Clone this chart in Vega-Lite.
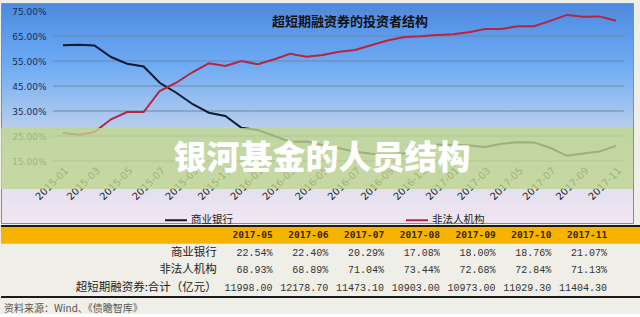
{
  "$schema": "https://vega.github.io/schema/vega-lite/v6.json",
  "background": "#efeee7",
  "padding": {"left": 0, "top": 2, "right": 0, "bottom": 0},
  "spacing": 0,
  "config": {"concat": {"spacing": 0}, "font": "Noto Sans CJK SC", "axis": {"labelOverlap": false, "labelFlush": false, "labelBound": false}},
  "vconcat": [
    {
      "width": 632,
      "height": 220,
      "view": {
        "stroke": "#8c8c8c",
        "strokeWidth": 1,
        "fill": {
          "gradient": "linear", "x1": 0, "y1": 0, "x2": 0, "y2": 1,
          "stops": [
            {"offset": 0, "color": "#4c8ae0"},
            {"offset": 0.28, "color": "#6eabf4"},
            {"offset": 0.5, "color": "#a7c6ee"},
            {"offset": 0.65, "color": "#cdd8ec"},
            {"offset": 1, "color": "#f3e6f2"}
          ]
        }
      },
      "title": {
        "text": "超短期融资券的投资者结构",
        "anchor": "middle",
        "dx": 33,
        "offset": -26,
        "font": "Noto Sans CJK SC",
        "fontSize": 13,
        "fontWeight": "bold",
        "color": "#111111"
      },
      "layer": [
        {
          "data": {"values": [{"g": 15}, {"g": 25}, {"g": 35}, {"g": 45}, {"g": 55}, {"g": 65}, {"g": 75}]},
          "mark": {"type": "rule", "color": "#6f87a6", "strokeWidth": 1},
          "encoding": {
            "y": {"field": "g", "type": "quantitative", "scale": {"domain": [-9.8, 78.2], "nice": false, "zero": false},
              "axis": {"values": [15, 25, 35, 45, 55, 65, 75], "tickCount": 40, "labelExpr": "datum.value + '.00%'", "grid": false, "domain": false, "ticks": false, "tickSize": 0, "labelPadding": -45, "labelFont": "DejaVu Sans", "labelFontSize": 9, "labelColor": "#1a2d55", "labelOverlap": false, "title": null}},
            "x": {"datum": {"year": 2014, "month": 12, "date": 13, "utc": true}, "type": "temporal"},
            "x2": {"datum": {"year": 2017, "month": 11, "date": 16, "utc": true}}
          }
        },
        {
          "data": {"values": [
            {"d": "2015-01", "s": "商业银行", "v": 61.3}, {"d": "2015-02", "s": "商业银行", "v": 61.5}, {"d": "2015-03", "s": "商业银行", "v": 61.2},
            {"d": "2015-04", "s": "商业银行", "v": 56.6}, {"d": "2015-05", "s": "商业银行", "v": 53.9}, {"d": "2015-06", "s": "商业银行", "v": 52.8},
            {"d": "2015-07", "s": "商业银行", "v": 46.3}, {"d": "2015-08", "s": "商业银行", "v": 42.3}, {"d": "2015-09", "s": "商业银行", "v": 37.7},
            {"d": "2015-10", "s": "商业银行", "v": 34.3}, {"d": "2015-11", "s": "商业银行", "v": 33.0}, {"d": "2015-12", "s": "商业银行", "v": 28.3},
            {"d": "2016-01", "s": "商业银行", "v": 27.4}, {"d": "2016-02", "s": "商业银行", "v": 25.0}, {"d": "2016-03", "s": "商业银行", "v": 22.7},
            {"d": "2016-04", "s": "商业银行", "v": 22.8}, {"d": "2016-05", "s": "商业银行", "v": 21.4}, {"d": "2016-06", "s": "商业银行", "v": 20.1},
            {"d": "2016-07", "s": "商业银行", "v": 18.7}, {"d": "2016-08", "s": "商业银行", "v": 17.9}, {"d": "2016-09", "s": "商业银行", "v": 17.7},
            {"d": "2016-10", "s": "商业银行", "v": 18.1}, {"d": "2016-11", "s": "商业银行", "v": 20.5}, {"d": "2016-12", "s": "商业银行", "v": 21.6},
            {"d": "2017-01", "s": "商业银行", "v": 21.5}, {"d": "2017-02", "s": "商业银行", "v": 21.2}, {"d": "2017-03", "s": "商业银行", "v": 20.6},
            {"d": "2017-04", "s": "商业银行", "v": 21.9}, {"d": "2017-05", "s": "商业银行", "v": 22.54}, {"d": "2017-06", "s": "商业银行", "v": 22.40},
            {"d": "2017-07", "s": "商业银行", "v": 20.29}, {"d": "2017-08", "s": "商业银行", "v": 17.08}, {"d": "2017-09", "s": "商业银行", "v": 18.00},
            {"d": "2017-10", "s": "商业银行", "v": 18.76}, {"d": "2017-11", "s": "商业银行", "v": 21.07},
            {"d": "2015-01", "s": "非法人机构", "v": 26.2}, {"d": "2015-02", "s": "非法人机构", "v": 25.5}, {"d": "2015-03", "s": "非法人机构", "v": 26.6},
            {"d": "2015-04", "s": "非法人机构", "v": 31.7}, {"d": "2015-05", "s": "非法人机构", "v": 34.6}, {"d": "2015-06", "s": "非法人机构", "v": 34.6},
            {"d": "2015-07", "s": "非法人机构", "v": 43.0}, {"d": "2015-08", "s": "非法人机构", "v": 46.3}, {"d": "2015-09", "s": "非法人机构", "v": 50.6},
            {"d": "2015-10", "s": "非法人机构", "v": 54.1}, {"d": "2015-11", "s": "非法人机构", "v": 53.0}, {"d": "2015-12", "s": "非法人机构", "v": 55.0},
            {"d": "2016-01", "s": "非法人机构", "v": 53.7}, {"d": "2016-02", "s": "非法人机构", "v": 55.7}, {"d": "2016-03", "s": "非法人机构", "v": 57.9},
            {"d": "2016-04", "s": "非法人机构", "v": 56.7}, {"d": "2016-05", "s": "非法人机构", "v": 57.4}, {"d": "2016-06", "s": "非法人机构", "v": 58.7},
            {"d": "2016-07", "s": "非法人机构", "v": 59.4}, {"d": "2016-08", "s": "非法人机构", "v": 61.4}, {"d": "2016-09", "s": "非法人机构", "v": 63.3},
            {"d": "2016-10", "s": "非法人机构", "v": 64.6}, {"d": "2016-11", "s": "非法人机构", "v": 64.9}, {"d": "2016-12", "s": "非法人机构", "v": 65.4},
            {"d": "2017-01", "s": "非法人机构", "v": 65.7}, {"d": "2017-02", "s": "非法人机构", "v": 66.6}, {"d": "2017-03", "s": "非法人机构", "v": 67.8},
            {"d": "2017-04", "s": "非法人机构", "v": 67.8}, {"d": "2017-05", "s": "非法人机构", "v": 68.93}, {"d": "2017-06", "s": "非法人机构", "v": 68.89},
            {"d": "2017-07", "s": "非法人机构", "v": 71.04}, {"d": "2017-08", "s": "非法人机构", "v": 73.44}, {"d": "2017-09", "s": "非法人机构", "v": 72.68},
            {"d": "2017-10", "s": "非法人机构", "v": 72.84}, {"d": "2017-11", "s": "非法人机构", "v": 71.13}
          ]},
          "mark": {"type": "line", "strokeWidth": 2},
          "encoding": {
            "x": {"field": "d", "type": "temporal",
              "scale": {"type": "utc", "domain": [{"year": 2014, "month": 9, "date": 7, "utc": true}, {"year": 2017, "month": 12, "date": 3, "utc": true}], "nice": false},
              "axis": {
                "values": [
                  {"year": 2015, "month": 1, "utc": true}, {"year": 2015, "month": 3, "utc": true}, {"year": 2015, "month": 5, "utc": true},
                  {"year": 2015, "month": 7, "utc": true}, {"year": 2015, "month": 9, "utc": true}, {"year": 2015, "month": 11, "utc": true},
                  {"year": 2016, "month": 1, "utc": true}, {"year": 2016, "month": 3, "utc": true}, {"year": 2016, "month": 5, "utc": true},
                  {"year": 2016, "month": 7, "utc": true}, {"year": 2016, "month": 9, "utc": true}, {"year": 2016, "month": 11, "utc": true},
                  {"year": 2017, "month": 1, "utc": true}, {"year": 2017, "month": 3, "utc": true}, {"year": 2017, "month": 5, "utc": true},
                  {"year": 2017, "month": 7, "utc": true}, {"year": 2017, "month": 9, "utc": true}, {"year": 2017, "month": 11, "utc": true}
                ],
                "tickCount": 40,
                "format": "%Y-%m",
                "labelAngle": -45,
                "labelAlign": "right",
                "labelBaseline": "top",
                "offset": -60,
                "labelPadding": 2,
                "grid": false, "domain": false, "ticks": false, "tickSize": 0,
                "labelFont": "DejaVu Sans", "labelFontSize": 10, "labelColor": "#222222",
                "labelOverlap": false, "labelFlush": false, "labelBound": false,
                "title": null
              }
            },
            "y": {"field": "v", "type": "quantitative"},
            "color": {"field": "s", "type": "nominal",
              "scale": {"domain": ["商业银行", "非法人机构"], "range": ["#101a30", "#b8233f"]},
              "legend": {
                "orient": "none", "legendX": 163, "legendY": 205, "direction": "horizontal",
                "title": null, "symbolType": "stroke", "symbolSize": 484, "symbolStrokeWidth": 2,
                "labelFont": "Noto Sans CJK SC", "labelFontSize": 10.5, "labelColor": "#222222",
                "labelOffset": 3, "columnPadding": 169, "padding": 0
              }
            }
          }
        },
        {
          "data": {"values": [{"band": "banner"}]},
          "mark": {"type": "rect", "color": "#bfd68f", "opacity": 0.8},
          "encoding": {
            "y": {"datum": 28.2, "type": "quantitative"},
            "y2": {"datum": 3.8}
          }
        },
        {
          "data": {"values": [{"t": "银河基金的人员结构"}]},
          "mark": {"type": "text", "color": "#ffffff", "font": "Noto Sans CJK SC", "fontSize": 33, "fontWeight": 900, "baseline": "middle", "align": "center", "dx": 5},
          "encoding": {
            "text": {"field": "t"},
            "y": {"datum": 15.8, "type": "quantitative"}
          }
        }
      ]
    },
    {
      "width": 640,
      "height": 75,
      "view": {"stroke": null},
      "title": {
        "text": "资料来源：Wind、《债瞻智库》",
        "orient": "bottom",
        "anchor": "start",
        "offset": 5,
        "font": "Noto Sans CJK SC",
        "fontSize": 10,
        "fontWeight": "normal",
        "color": "#555555",
        "dx": 4
      },
      "data": {"values": [
        {"row": "header", "col": "2017-05", "text": "2017-05"}, {"row": "header", "col": "2017-06", "text": "2017-06"},
        {"row": "header", "col": "2017-07", "text": "2017-07"}, {"row": "header", "col": "2017-08", "text": "2017-08"},
        {"row": "header", "col": "2017-09", "text": "2017-09"}, {"row": "header", "col": "2017-10", "text": "2017-10"},
        {"row": "header", "col": "2017-11", "text": "2017-11"},
        {"row": "商业银行", "col": "label", "text": "商业银行"},
        {"row": "商业银行", "col": "2017-05", "text": "22.54%"}, {"row": "商业银行", "col": "2017-06", "text": "22.40%"},
        {"row": "商业银行", "col": "2017-07", "text": "20.29%"}, {"row": "商业银行", "col": "2017-08", "text": "17.08%"},
        {"row": "商业银行", "col": "2017-09", "text": "18.00%"}, {"row": "商业银行", "col": "2017-10", "text": "18.76%"},
        {"row": "商业银行", "col": "2017-11", "text": "21.07%"},
        {"row": "非法人机构", "col": "label", "text": "非法人机构"},
        {"row": "非法人机构", "col": "2017-05", "text": "68.93%"}, {"row": "非法人机构", "col": "2017-06", "text": "68.89%"},
        {"row": "非法人机构", "col": "2017-07", "text": "71.04%"}, {"row": "非法人机构", "col": "2017-08", "text": "73.44%"},
        {"row": "非法人机构", "col": "2017-09", "text": "72.68%"}, {"row": "非法人机构", "col": "2017-10", "text": "72.84%"},
        {"row": "非法人机构", "col": "2017-11", "text": "71.13%"},
        {"row": "合计", "col": "label", "text": "超短期融资券:合计（亿元）"},
        {"row": "合计", "col": "2017-05", "text": "11998.00"}, {"row": "合计", "col": "2017-06", "text": "12178.70"},
        {"row": "合计", "col": "2017-07", "text": "11473.10"}, {"row": "合计", "col": "2017-08", "text": "10903.00"},
        {"row": "合计", "col": "2017-09", "text": "10973.00"}, {"row": "合计", "col": "2017-10", "text": "11029.30"},
        {"row": "合计", "col": "2017-11", "text": "11404.30"}
      ]},
      "encoding": {
        "y": {"field": "row", "type": "nominal", "axis": null,
          "scale": {"type": "band", "domain": ["header", "商业银行", "非法人机构", "合计"], "paddingInner": 0, "paddingOuter": 0.12}}
      },
      "layer": [
        {
          "transform": [{"filter": "datum.col == '2017-05' && datum.row == 'header'"}],
          "mark": {"type": "rect", "color": "#f6b400"}
        },
        {
          "transform": [{"filter": "datum.col == '2017-05' && datum.row == 'header'"}],
          "mark": {"type": "rule", "color": "#1a1a1a", "strokeWidth": 2},
          "encoding": {"y": {"field": "row", "type": "nominal", "bandPosition": 0}}
        },
        {
          "transform": [{"filter": "datum.col == '2017-05' && datum.row == '合计'"}],
          "mark": {"type": "rule", "color": "#1a1a1a", "strokeWidth": 2},
          "encoding": {"y": {"field": "row", "type": "nominal", "bandPosition": 1}}
        },
        {
          "transform": [{"filter": "datum.row == 'header'"}],
          "mark": {"type": "text", "align": "right", "baseline": "middle", "font": "DejaVu Sans Mono", "fontSize": 9.5, "fontWeight": "bold", "color": "#3a2600"},
          "encoding": {
            "x": {"field": "col", "type": "nominal", "axis": null,
              "scale": {"type": "point", "domain": ["label", "2017-05", "2017-06", "2017-07", "2017-08", "2017-09", "2017-10", "2017-11"], "range": [188, 634]}},
            "text": {"field": "text"}
          }
        },
        {
          "transform": [{"filter": "datum.row != 'header' && datum.col != 'label'"}],
          "mark": {"type": "text", "align": "right", "baseline": "middle", "font": "Liberation Mono", "fontSize": 10, "color": "#333333"},
          "encoding": {
            "x": {"field": "col", "type": "nominal", "axis": null},
            "text": {"field": "text"}
          }
        },
        {
          "transform": [{"filter": "datum.col == 'label'"}],
          "mark": {"type": "text", "align": "right", "baseline": "middle", "font": "Noto Sans CJK SC", "fontSize": 11.5, "color": "#222222"},
          "encoding": {
            "x": {"field": "col", "type": "nominal", "axis": null},
            "text": {"field": "text"}
          }
        }
      ]
    }
  ]
}
